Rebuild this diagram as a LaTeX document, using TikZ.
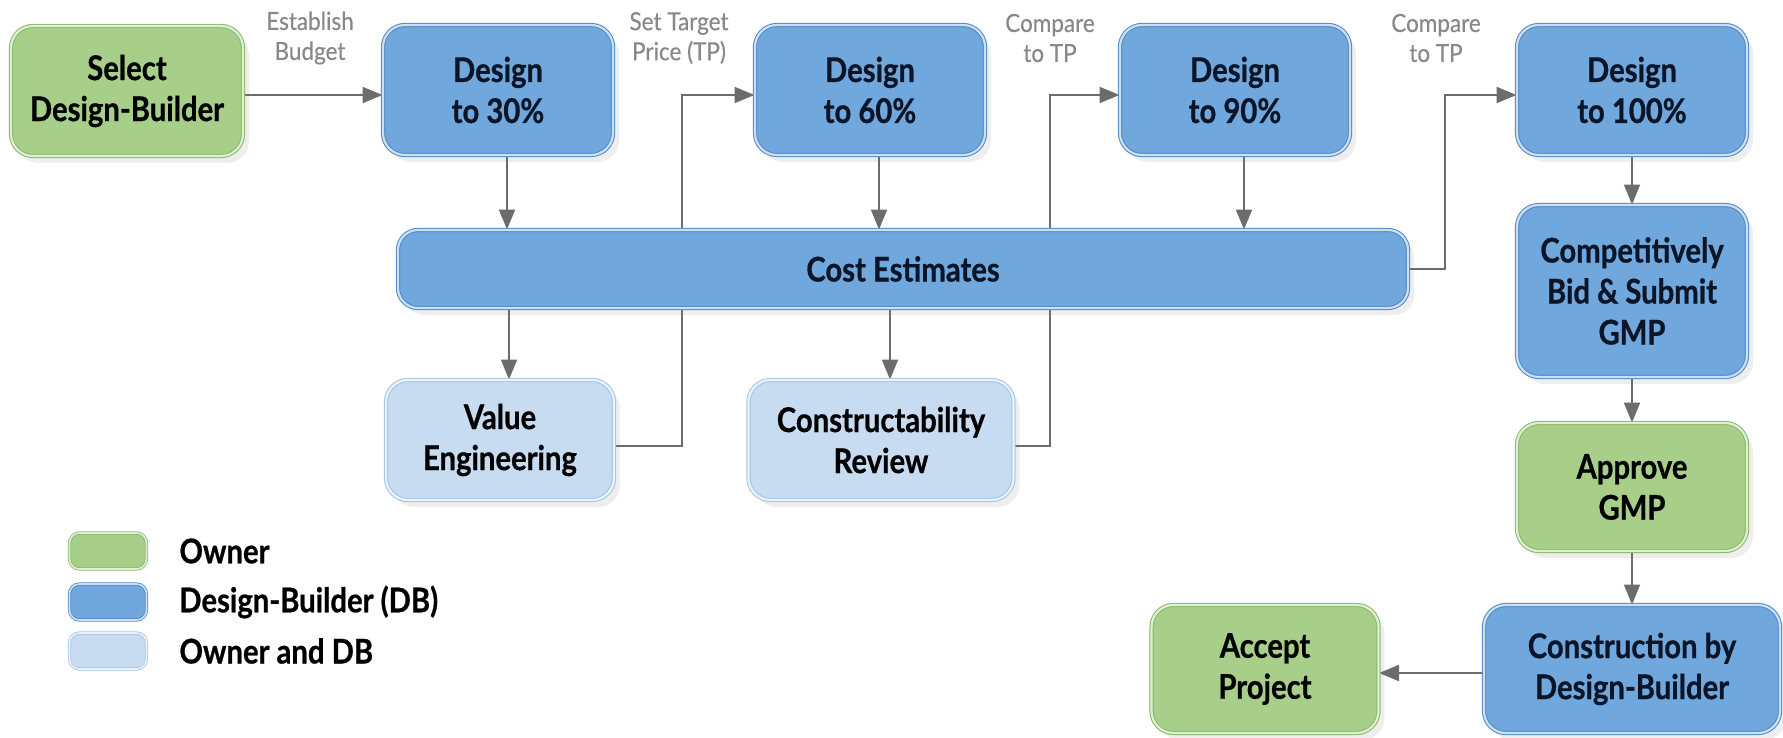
\documentclass[tikz,border=0pt]{standalone}
\usepackage{fontspec}
\setmainfont{Lato}
\newfontfamily\boxfont{Lato}[FakeStretch=0.86,FakeBold=0.7]
\newfontfamily\labfont{Lato}[FakeStretch=0.9,FakeBold=0.3]
\usetikzlibrary{arrows.meta,shadows}
\definecolor{gfill}{HTML}{A8CF8A}
\definecolor{gline}{HTML}{86B86A}
\definecolor{bfill}{HTML}{70A7DC}
\definecolor{bline}{HTML}{4F88C6}
\definecolor{lfill}{HTML}{C7DCF1}
\definecolor{lline}{HTML}{A3C3E4}
\definecolor{arrowgray}{HTML}{6C6C6C}
\definecolor{labgray}{HTML}{888888}
\definecolor{navy}{HTML}{0B1528}
\pgfdeclarelayer{back}
\pgfdeclarelayer{bg}
\pgfsetlayers{back,bg,main}
\begin{document}
\begin{tikzpicture}[x=0.5pt,y=-0.5pt,
  boxbase/.style={rounded corners=11pt, double distance=1.1pt, line width=0.5pt,
    align=center, inner sep=0pt, font=\boxfont\bfseries\fontsize{17}{20.5}\selectfont,
    drop shadow={opacity=0.13, shadow xshift=3pt, shadow yshift=-3.5pt}},
  ownerbox/.style={boxbase, fill=gfill, draw=gline, double=gfill!35!white, text=black},
  dbbox/.style={boxbase, fill=bfill, draw=bline, double=bfill!35!white, text=navy},
  bothbox/.style={boxbase, fill=lfill, draw=lline, double=lfill!35!white, text=black},
  swatch/.style={rounded corners=5pt, double distance=0.8pt, line width=0.4pt,
    minimum width=38.5pt, minimum height=18pt, inner sep=0pt},
  legtext/.style={anchor=west, inner sep=0pt, font=\boxfont\bfseries\fontsize{17}{21}\selectfont, text=black},
  lab/.style={align=center, inner sep=0pt, text=labgray, font=\labfont\fontsize{12.5}{15}\selectfont},
  arr/.style={draw=arrowgray, line width=1pt, -{Triangle[length=10pt,width=8pt]}}
]
\begin{pgfonlayer}{back}
\fill[white] (0,0) rectangle (1783,738);
\end{pgfonlayer}
\useasboundingbox (0,0) rectangle (1783,738);

% top row
\node[ownerbox, minimum width=116pt, minimum height=65pt] (sel) at (127,91) {Select\\Design-Builder};
\node[dbbox, minimum width=115pt, minimum height=65pt] (d30) at (498,90) {Design\\to 30\%};
\node[dbbox, minimum width=115pt, minimum height=65pt] (d60) at (870,90) {Design\\to 60\%};
\node[dbbox, minimum width=115pt, minimum height=65pt] (d90) at (1235,90) {Design\\to 90\%};
\node[dbbox, minimum width=115pt, minimum height=65pt] (d100) at (1632,90) {Design\\to 100\%};

% cost estimates
\node[dbbox, minimum width=505pt, minimum height=39pt, rounded corners=10pt] (cost) at (903,269) {Cost Estimates};

% lower reviews
\node[bothbox, minimum width=114pt, minimum height=60pt] (ve) at (500,440) {Value\\Engineering};
\node[bothbox, minimum width=132.5pt, minimum height=60pt] (cr) at (881,440) {Constructability\\Review};

% right column
\node[dbbox, minimum width=115pt, minimum height=86pt] (comp) at (1632,291) {Competitively\\Bid \& Submit\\GMP};
\node[ownerbox, minimum width=115pt, minimum height=64pt] (appr) at (1632,487) {Approve\\GMP};
\node[dbbox, minimum width=148pt, minimum height=64pt] (constr) at (1632,669) {Construction by\\Design-Builder};
\node[ownerbox, minimum width=113.5pt, minimum height=64pt] (acc) at (1265,669) {Accept\\Project};

% labels
\node[lab] (l1) at (310,38) {Establish\\Budget};
\node[lab] (l2) at (679,38) {Set Target\\Price (TP)};
\node[lab] (l3) at (1050,38) {Compare\\to TP};
\node[lab] (l4) at (1436,38) {Compare\\to TP};

% legend
\node[swatch, fill=gfill, draw=gline, double=gfill!35!white] (s1) at (108,551) {};
\node[swatch, fill=bfill, draw=bline, double=bfill!35!white] (s2) at (108,602) {};
\node[swatch, fill=lfill, draw=lline, double=lfill!35!white] (s3) at (108,651) {};
\node[legtext] (t1) at (179,551) {Owner};
\node[legtext] (t2) at (179,602) {Design-Builder (DB)};
\node[legtext] (t3) at (179,651) {Owner and DB};

\coordinate (e1) at (682,0);
\coordinate (e2) at (1050,0);
\coordinate (e3) at (1445,0);
\coordinate (hy) at (0,95);

\begin{pgfonlayer}{bg}
\draw[arr] (sel.east |- hy) -- (d30.west |- hy);
\draw[arr] ([xshift=4.5pt]d30.south) -- ([xshift=4.5pt]d30.south |- cost.north);
\draw[arr] ([xshift=4.5pt]d60.south) -- ([xshift=4.5pt]d60.south |- cost.north);
\draw[arr] ([xshift=4.5pt]d90.south) -- ([xshift=4.5pt]d90.south |- cost.north);
\draw[arr] ([xshift=4.5pt]ve.north |- cost.south) -- ([xshift=4.5pt]ve.north);
\draw[arr] ([xshift=4.5pt]cr.north |- cost.south) -- ([xshift=4.5pt]cr.north);
\draw[arr] ([yshift=-3pt]ve.east) -- ([yshift=-3pt]ve.east -| e1) -- (e1 |- hy) -- (d60.west |- hy);
\draw[arr] ([yshift=-3pt]cr.east) -- ([yshift=-3pt]cr.east -| e2) -- (e2 |- hy) -- (d90.west |- hy);
\draw[arr] (cost.east) -- (cost.east -| e3) -- (e3 |- hy) -- (d100.west |- hy);
\draw[arr] (d100.south) -- (comp.north);
\draw[arr] (comp.south) -- (appr.north);
\draw[arr] (appr.south) -- (constr.north);
\draw[arr] ([yshift=-2pt]constr.west) -- ([yshift=-2pt]acc.east);
\end{pgfonlayer}
\end{tikzpicture}
\end{document}
